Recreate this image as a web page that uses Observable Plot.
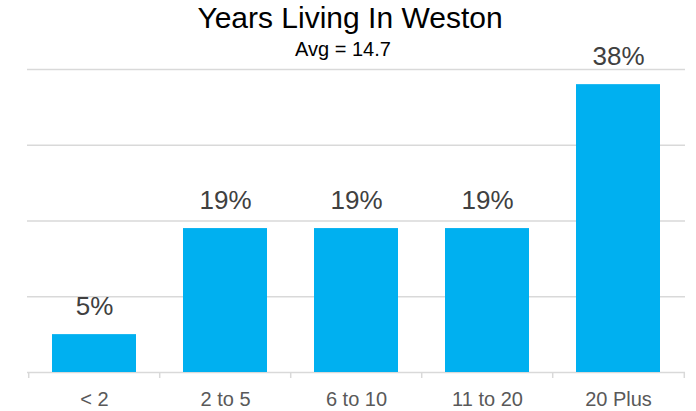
<!DOCTYPE html>
<html>
<head>
<meta charset="utf-8">
<script src="https://cdn.jsdelivr.net/npm/d3@7"></script>
<script src="https://cdn.jsdelivr.net/npm/@observablehq/plot@0.6"></script>
<style>
  html, body { margin: 0; padding: 0; background: #fff; }
  #wrap { position: relative; width: 696px; height: 411px; font-family: "Liberation Sans", Arial, sans-serif; }
  #chart { position: absolute; left: 0; top: 0; }
  #title { position: absolute; left: 0; width: 700px; top: 1px; text-align: center; font-size: 30px; color: #000; line-height: 34px; z-index: 2; }
  #sub { position: absolute; left: 0; width: 686px; top: 38px; text-align: center; font-size: 20px; color: #000; line-height: 22px; z-index: 2; }
</style>
</head>
<body>
<div id="wrap">
  <div id="chart"></div>
  <div id="title">Years Living In Weston</div>
  <div id="sub">Avg = 14.7</div>
</div>
<script>
const categories = ["< 2", "2 to 5", "6 to 10", "11 to 20", "20 Plus"];
const values = [5, 19, 19, 19, 38];
const gridTicks = [0, 10, 20, 30, 40];

const data = categories.map((c, i) => ({cat: c, value: values[i]}));
const W = 696, H = 411, ML = 27, MR = 11;
const bw = (W - ML - MR) / categories.length;

const chart = Plot.plot({
  width: W,
  height: H,
  marginTop: 69,
  marginBottom: 39,
  marginLeft: ML,
  marginRight: MR,
  style: {fontFamily: "'Liberation Sans', Arial, sans-serif", background: "transparent", overflow: "visible"},
  x: {domain: categories, paddingInner: 0.355, paddingOuter: 0.1775, label: null},
  y: {domain: [0, 40], label: null},
  marks: [
    Plot.ruleY(gridTicks, {stroke: "#d9d9d9", strokeWidth: 1.5}),
    Plot.barY(data, {x: "cat", y: "value", fill: "#00b0f0"}),
    Plot.ruleX(categories, {x: d => d, y1: 0, y2: 0, dx: -bw / 2, insetBottom: -6, stroke: "#d9d9d9", strokeWidth: 1.5}),
    Plot.ruleX(categories.slice(-1), {x: d => d, y1: 0, y2: 0, dx: bw / 2, insetBottom: -6, stroke: "#d9d9d9", strokeWidth: 1.5}),
    Plot.text(data, {x: "cat", y: "value", text: d => d.value + "%", lineAnchor: "bottom", dy: -20, fontSize: 26, fill: "#404040"}),
    Plot.axisX({tickSize: 0, tickPadding: 19, fontSize: 20, color: "#595959", label: null}),
    Plot.axisY({ticks: [], label: null, tickSize: 0})
  ]
});
document.getElementById("chart").appendChild(chart);
</script>
</body>
</html>
